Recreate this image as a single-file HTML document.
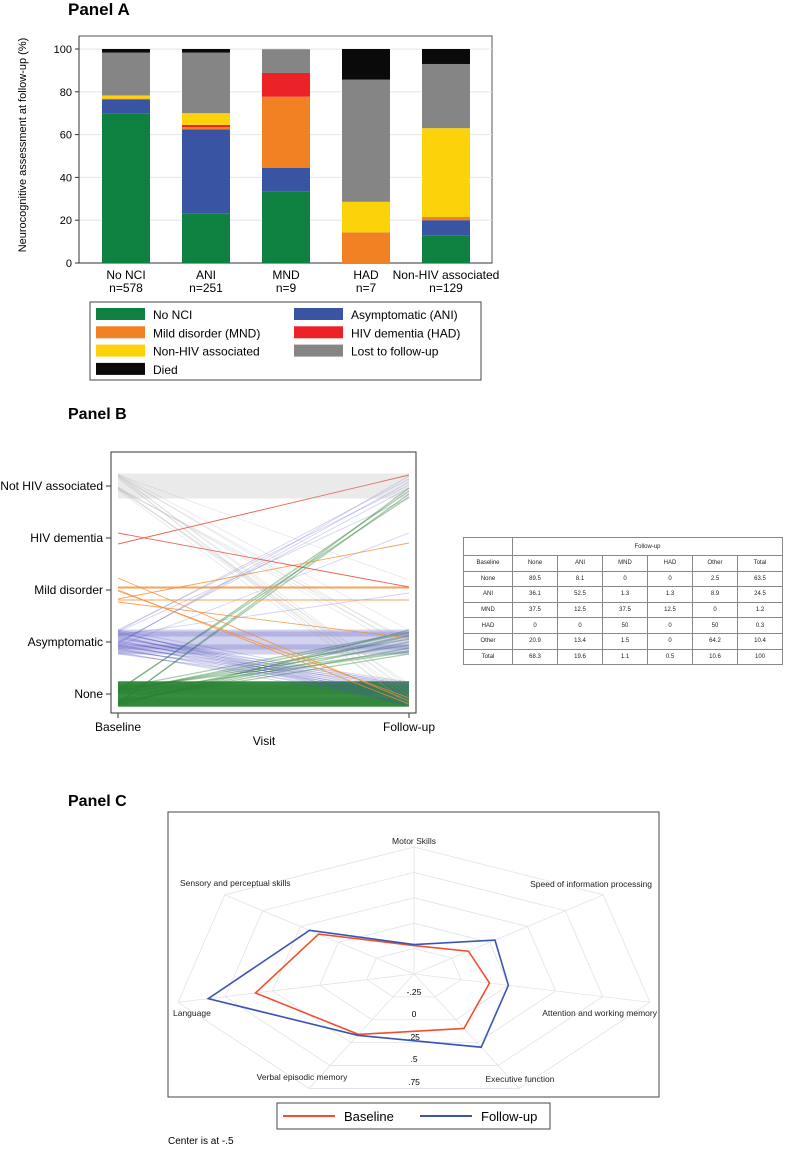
<!DOCTYPE html>
<html><head><meta charset="utf-8"><style>
body{margin:0;background:#fff;width:800px;height:1149px;overflow:hidden;font-family:"Liberation Sans",Arial,sans-serif}
svg{position:absolute;left:0;top:0}
#tbl{position:absolute;left:463px;top:537px;border-collapse:collapse;font-size:6px;font-family:"Liberation Sans",sans-serif;color:#222}
#tbl td{border:1px solid #888;text-align:center;height:14.6px;padding:0}
</style></head><body>
<svg id="s" width="800" height="1149" xmlns="http://www.w3.org/2000/svg"></svg>
<table id="tbl">
<tr style="height:18px"><td style="width:48px"></td><td colspan="6">Follow-up</td></tr>
<tr><td>Baseline</td><td style="width:44px">None</td><td style="width:44px">ANI</td><td style="width:44px">MND</td><td style="width:44px">HAD</td><td style="width:44px">Other</td><td style="width:44px">Total</td></tr>
<tr><td>None</td><td>89.5</td><td>8.1</td><td>0</td><td>0</td><td>2.5</td><td>63.5</td></tr>
<tr><td>ANI</td><td>36.1</td><td>52.5</td><td>1.3</td><td>1.3</td><td>8.9</td><td>24.5</td></tr>
<tr><td>MND</td><td>37.5</td><td>12.5</td><td>37.5</td><td>12.5</td><td>0</td><td>1.2</td></tr>
<tr><td>HAD</td><td>0</td><td>0</td><td>50</td><td>0</td><td>50</td><td>0.3</td></tr>
<tr><td>Other</td><td>20.9</td><td>13.4</td><td>1.5</td><td>0</td><td>64.2</td><td>10.4</td></tr>
<tr><td>Total</td><td>68.3</td><td>19.6</td><td>1.1</td><td>0.5</td><td>10.6</td><td>100</td></tr>
</table>
<script>
// ---- Panel A data ----
const catsA = ["No NCI","ANI","MND","HAD","Non-HIV associated"];
const nA = ["n=578","n=251","n=9","n=7","n=129"];
const sNoNCI = [70,23,33.3,0,13];
const sANI = [6.5,39.5,11.1,0,7];
const sMND = [0.3,1,33.3,14.3,1.5];
const sHAD = [0,1,11.1,0,0];
const sNonHIV = [1.5,5.5,0,14.3,41.5];
const sLost = [20,28.3,11.1,57.1,30];
const sDied = [1.7,1.7,0,14.3,7];
const ticksA = [0,20,40,60,80,100];
// ---- Panel B data ----
const levelsB = ["None","Asymptomatic","Mild disorder","HIV dementia","Not HIV associated"];
const transFrom = [0,0,0,1,1,1,1,1,2,2,2,2,3,3,4,4,4,4];
const transTo   = [0,1,4,0,1,2,3,4,0,1,2,3,2,4,0,1,2,4];
const transN    = [120,12,4,25,35,1,1,6,3,1,3,1,1,1,8,6,1,25];
// ---- Panel C data ----
const axesC = ["Motor Skills","Speed of information processing","Attention and working memory","Executive function","Verbal episodic memory","Language","Sensory and perceptual skills"];
const baseC = [-0.22,-0.14,-0.10,0.095,0.16,0.34,0.13];
const follC = [-0.21,0.035,0.0,0.30,0.17,0.59,0.19];
const ticksC = ["-.25","0",".25",".5",".75"];

const S=document.getElementById('s');const NS="http://www.w3.org/2000/svg";
function el(t,a,p){const e=document.createElementNS(NS,t);for(const k in a)e.setAttribute(k,a[k]);(p||S).appendChild(e);return e;}
function tx(x,y,s,a,p){const e=el('text',Object.assign({x:x,y:y,'font-family':'Liberation Sans, Arial, sans-serif'},a),p);e.textContent=s;return e;}

// ---------- Panel A ----------
let t=tx(68,15,"Panel A",{'font-size':17,'font-weight':'bold'});

const gA=el('g',{});
el('rect',{x:79,y:36,width:413,height:227,fill:'#fff',stroke:'#555','stroke-width':1},gA);
const yA=v=>263-v*2.14;
ticksA.forEach(v=>{el('line',{x1:79,x2:492,y1:yA(v),y2:yA(v),stroke:'#e6e6e6'},gA);
 el('line',{x1:75,x2:79,y1:yA(v),y2:yA(v),stroke:'#333'},gA);
 const k=tx(72,yA(v)+4,String(v),{'font-size':11,'text-anchor':'end'},gA);});
el('line',{x1:79,x2:79,y1:36,y2:263,stroke:'#333'},gA);el('line',{x1:79,x2:492,y1:263,y2:263,stroke:'#333'},gA);
t=tx(0,0,"Neurocognitive assessment at follow-up (%)",{'font-size':11,'text-anchor':'middle',transform:'translate(26,145) rotate(-90)'},gA);

const colsA=['#0e8040','#3a54a4','#f28124','#ec2227','#fcd20a','#858585','#0a0a0a'];
const serA=[sNoNCI,sANI,sMND,sHAD,sNonHIV,sLost,sDied];
catsA.forEach((c,i)=>{const x=102+i*80;let acc=0;
 serA.forEach((s,j)=>{const v=s[i];if(v>0){const r=el('rect',{x:x,y:yA(acc+v),width:48,height:v*2.14,fill:colsA[j]},gA);
  }acc+=v;});
 const a=tx(x+24,279,c,{'font-size':12,'text-anchor':'middle'},gA);
 const b=tx(x+24,292,nA[i],{'font-size':12,'text-anchor':'middle'},gA);});
const lg=el('g',{});
el('rect',{x:90,y:302,width:391,height:78,fill:'#fff',stroke:'#444'},lg);
const lgOrder=[[0,0],[1,2],[2,4],[3,6],[0,1],[1,3],[2,5]];
const lgNames=["No NCI","Mild disorder (MND)","Non-HIV associated","Died","Asymptomatic (ANI)","HIV dementia (HAD)","Lost to follow-up"];
lgOrder.forEach((o,k)=>{const col=k<4?0:1;const row=o[0];const x=col?294:96;const y=308+row*18.3;
 const r=el('rect',{x:x,y:y,width:49,height:12,fill:colsA[o[1]]},lg);
 const q=tx(x+57,y+11,lgNames[k],{'font-size':12},lg);});

// ---------- Panel B ----------
t=tx(68,419,"Panel B",{'font-size':16,'font-weight':'bold'});
const gB=el('g',{});
el('rect',{x:111,y:452,width:305,height:261,fill:'#fff',stroke:'#333'},gB);
const yB=l=>694-l*52;const xB0=118,xB1=409;
const colB=['rgba(40,130,50,0.4)','rgba(80,80,190,0.25)','rgba(245,140,50,0.8)','rgba(235,70,50,0.85)','rgba(170,170,170,0.25)'];
for(let k=0;k<transN.length;k++){for(let i=0;i<transN[k];i++){
 const o1=((i*37+k*11)%25)-12;
 const o2=transFrom[k]==transTo[k]?o1:((i*53+k*17+5)%25)-12;
 const ln=el('line',{x1:xB0,x2:xB1,y1:yB(transFrom[k])+o1,y2:yB(transTo[k])+o2,stroke:colB[transFrom[k]],'stroke-width':transFrom[k]==0?1.3:0.9},gB);
 }}
levelsB.forEach((l,i)=>{el('line',{x1:106,x2:111,y1:yB(i),y2:yB(i),stroke:'#333'},gB);
 const q=tx(103,yB(i)+4,l,{'font-size':12,'text-anchor':'end'},gB);});
[[xB0,"Baseline"],[xB1,"Follow-up"]].forEach(p=>{el('line',{x1:p[0],x2:p[0],y1:713,y2:718,stroke:'#333'},gB);
 const q=tx(p[0],731,p[1],{'font-size':12,'text-anchor':'middle'},gB);});
t=tx(264,745,"Visit",{'font-size':12,'text-anchor':'middle'},gB);

// ---------- Panel C ----------
t=tx(68,806,"Panel C",{'font-size':16,'font-weight':'bold'});
const gC=el('g',{});
el('rect',{x:168,y:812,width:491,height:285,fill:'#fff',stroke:'#444'},gC);
const cx=414,cy=974,RX=242,RY=127;
const ang=i=>-Math.PI/2+i*2*Math.PI/7;
const pt=(i,f)=>[cx+Math.cos(ang(i))*RX*f,cy+Math.sin(ang(i))*RY*f];
for(let r=1;r<=5;r++){const ps=[];for(let i=0;i<7;i++)ps.push(pt(i,r/5).join(','));
 el('polygon',{points:ps.join(' '),fill:'none',stroke:'#dfe3ea','stroke-width':0.8},gC);}
for(let i=0;i<7;i++){const p=pt(i,1);el('line',{x1:cx,y1:cy,x2:p[0],y2:p[1],stroke:'#dfe3ea','stroke-width':0.8},gC);}
const labPos=[[414,844,'middle'],[652,887,'end'],[657,1016,'end'],[520,1082,'middle'],[302,1080,'middle'],[173,1016,'start'],[180,886,'start']];
axesC.forEach((a,i)=>{const q=tx(labPos[i][0],labPos[i][1],a,{'font-size':8.5,'text-anchor':labPos[i][2],fill:'#222'},gC);});
const tickY=[995,1017,1040,1062,1085];
ticksC.forEach((s,i)=>{const q=tx(cx,tickY[i],s,{'font-size':8.5,'text-anchor':'middle'},gC);});
const rf=v=>(v+0.5)/1.25;
[[baseC,'#f0502d','baseline-polygon'],[follC,'#3a54b4','followup-polygon']].forEach(s=>{
 const ps=s[0].map((v,i)=>pt(i,rf(v)).join(','));
 const p=el('polygon',{points:ps.join(' '),fill:'none',stroke:s[1],'stroke-width':1.6},gC);
 });
const lc=el('g',{});
el('rect',{x:277,y:1103,width:273,height:26,fill:'#fff',stroke:'#444'},lc);
el('line',{x1:283,x2:335,y1:1116,y2:1116,stroke:'#f0502d','stroke-width':2},lc);
t=tx(344,1121,"Baseline",{'font-size':13},lc);
el('line',{x1:420,x2:472,y1:1116,y2:1116,stroke:'#3a54b4','stroke-width':2},lc);
t=tx(481,1121,"Follow-up",{'font-size':13},lc);
t=tx(168,1144,"Center is at -.5",{'font-size':10});
</script>
</body></html>
